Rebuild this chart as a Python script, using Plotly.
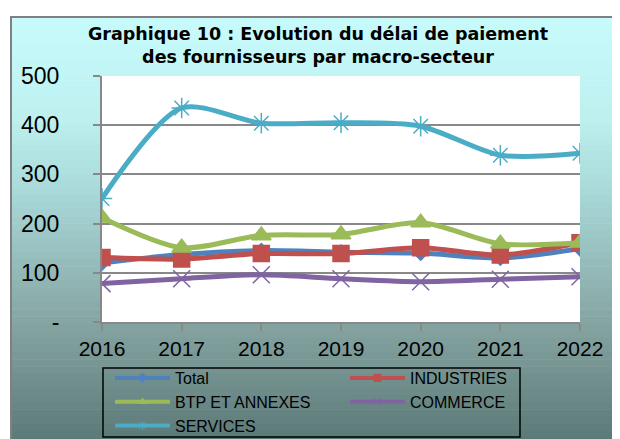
import plotly.graph_objects as go

years = ["2016", "2017", "2018", "2019", "2020", "2021", "2022"]
total = [120, 137, 145, 142, 140, 130, 149]
industries = [131, 128, 139, 139, 151, 136, 161]
btp = [212, 151, 176, 178, 202, 159, 161]
commerce = [78, 88, 96, 88, 82, 87, 92]
services = [251, 435, 404, 405, 398, 339, 343]
ytick_vals = [0, 100, 200, 300, 400, 500]
ytick_text = ["-", "100", "200", "300", "400", "500"]

W, H = 620, 439
OFF = 8  # page body margin in the browser
# plot area in reference (window) pixels
L, R, T, B = 102, 580, 76, 322

def px(x):
    return (x - L) / (R - L)

def py(y):
    return (B - y) / (B - T)

fig = go.Figure()

series = [
    ("Total", total, "#4f81bd", "diamond", 11),
    ("INDUSTRIES", industries, "#c0504d", "square", 16),
    ("BTP ET ANNEXES", btp, "#9bbb59", "triangle-up", 17),
    ("COMMERCE", commerce, "#8064a2", "x-thin-open", 17),
    ("SERVICES", services, "#4bacc6", "asterisk-open", 17),
]
xidx = list(range(len(years)))
for name, vals, col, sym, sz in series:
    fig.add_trace(go.Scatter(
        x=xidx, y=vals, name=name, mode="lines+markers", showlegend=False,
        line=dict(color=col, width=5, shape="spline", smoothing=0.8),
        marker=dict(symbol=sym, size=sz, color=col,
                    line=dict(color=col, width=1.5)),
    ))
for name, vals, col, sym, sz in series:
    fig.add_trace(go.Scatter(
        x=[None], y=[None], name=name, mode="lines+markers", showlegend=True,
        line=dict(color=col, width=4),
        marker=dict(symbol=sym, size=7, color=col, line=dict(color=col, width=1)),
    ))

# background gradient
stops = [(16, (200, 252, 252)), (120, (190, 240, 240)), (195, (168, 216, 216)),
         (315, (136, 168, 166)), (445, (90, 120, 118))]
shapes = []
n = 60
for i in range(n):
    y0 = 16 + (445 - 16) * i / n
    y1 = 16 + (445 - 16) * (i + 1) / n + 0.5
    ym = (y0 + y1) / 2
    for j in range(len(stops) - 1):
        if stops[j][0] <= ym <= stops[j + 1][0]:
            t = (ym - stops[j][0]) / (stops[j + 1][0] - stops[j][0])
            c = tuple(int(stops[j][1][k] + t * (stops[j + 1][1][k] - stops[j][1][k])) for k in range(3))
            break
    shapes.append(dict(type="rect", xref="paper", yref="paper", layer="below",
                       x0=px(10), x1=px(640), y0=py(y1), y1=py(y0),
                       fillcolor="rgb(%d,%d,%d)" % c, line=dict(width=0)))
shapes.append(dict(type="rect", xref="paper", yref="paper", layer="below",
                   x0=px(11), x1=px(640), y0=py(460), y1=py(17),
                   fillcolor="rgba(0,0,0,0)", line=dict(color="#808080", width=2)))
shapes.append(dict(type="rect", xref="paper", yref="paper", layer="below",
                   x0=0, x1=1, y0=0, y1=1, fillcolor="white", line=dict(width=0)))
# legend frame
shapes.append(dict(type="rect", xref="paper", yref="paper", layer="above",
                   x0=px(103), x1=px(520), y0=py(437), y1=py(368),
                   fillcolor="rgba(0,0,0,0)", line=dict(color="black", width=1.5)))

fig.update_layout(
    width=W, height=H,
    margin=dict(l=L - OFF, r=W - R + OFF, t=T - OFF, b=H - B + OFF, autoexpand=False),
    paper_bgcolor="white", plot_bgcolor="rgba(0,0,0,0)",
    shapes=shapes,
    font=dict(family="Arial, Liberation Sans", color="black"),
    title=dict(text="<b>Graphique 10 : Evolution du délai de paiement<br>des fournisseurs par macro-secteur</b>",
               x=(318 - OFF) / W, xanchor="center", y=1 - (40 - OFF) / H, yanchor="top",
               font=dict(size=17.5, family="DejaVu Sans", color="black")),
    xaxis=dict(range=[0, 6], tickvals=xidx, ticktext=years,
               showgrid=False, showline=True, linecolor="#888888", linewidth=2,
               ticks="outside", ticklen=7, tickcolor="#888888", tickwidth=2,
               tickfont=dict(size=21), zeroline=False, automargin=False),
    yaxis=dict(range=[0, 500], tickvals=ytick_vals, ticktext=ytick_text,
               showgrid=True, gridcolor="#888888", gridwidth=2,
               showline=True, linecolor="#888888", linewidth=2,
               ticks="outside", ticklen=7, tickcolor="#888888", tickwidth=2,
               tickfont=dict(size=23), zeroline=False, ticklabelstandoff=29,
               automargin=False),
    legend=dict(orientation="h", xref="container", yref="container",
                x=(110 - OFF) / W, y=1 - (361 - OFF) / H, xanchor="left", yanchor="top",
                bgcolor="rgba(0,0,0,0)", borderwidth=0,
                entrywidth=165, itemwidth=55, font=dict(size=16), traceorder="normal",
                tracegroupgap=0),
    showlegend=True,
)

fig.write_html("out.html")
